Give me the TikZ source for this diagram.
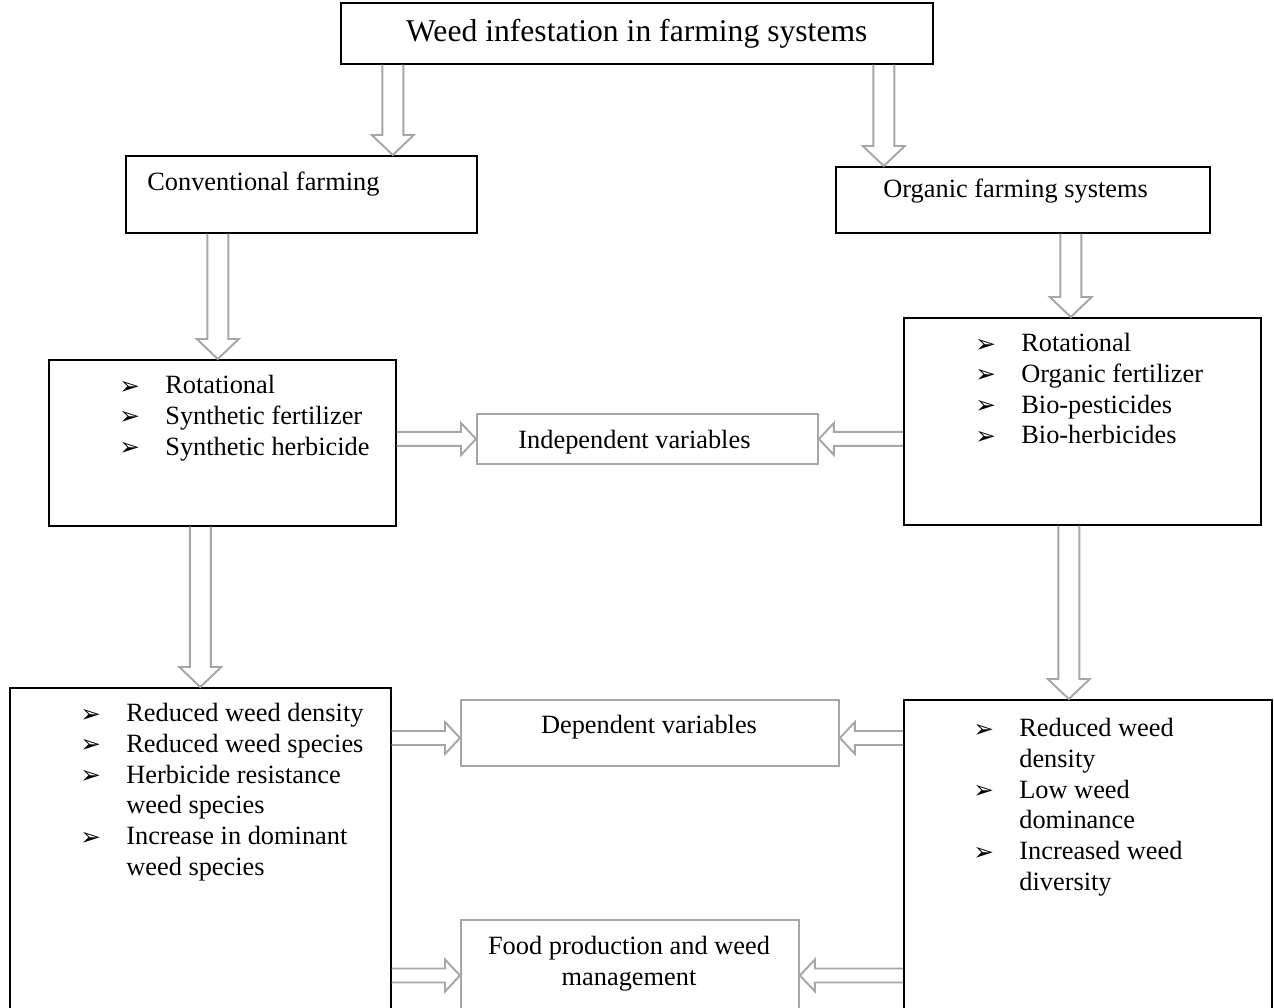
\documentclass[tikz,border=0pt]{standalone}
\usepackage{fontspec}
\setmainfont{Liberation Serif}
\newfontfamily\dingfont{DejaVu Sans}
\usepackage{tikz}
\usetikzlibrary{calc}
\tikzstyle{box} = [rectangle, draw=black, line width=0.9pt, inner sep=0pt, anchor=north west]
\tikzstyle{graybox} = [rectangle, draw=black!35, line width=1.1pt, inner sep=0pt, anchor=north west]
\tikzstyle{blockarrow} = [draw=black!35, line width=1.1pt, line join=miter]
\tikzstyle{txt} = [inner sep=0pt, align=left, anchor=north west, font=\fontsize{15}{17.5}\selectfont]
\newcommand{\bul}{\makebox[0.92cm][l]{\raisebox{-0.3pt}{\dingfont\fontsize{14}{14}\selectfont ➢}}}
% hollow block arrows: #1 start, #2 tip
\newcommand{\downblock}[2]{\draw[blockarrow] let \p1=(#1), \p2=(#2) in (\x2-0.21cm,\y1) -- (\x2-0.21cm,\y2+0.4cm) -- (\x2-0.42cm,\y2+0.4cm) -- (\x2,\y2) -- (\x2+0.42cm,\y2+0.4cm) -- (\x2+0.21cm,\y2+0.4cm) -- (\x2+0.21cm,\y1);}
\newcommand{\rightblock}[2]{\draw[blockarrow] let \p1=(#1), \p2=(#2) in (\x1,\y2+0.14cm) -- (\x2-0.3cm,\y2+0.14cm) -- (\x2-0.3cm,\y2+0.32cm) -- (\x2,\y2) -- (\x2-0.3cm,\y2-0.32cm) -- (\x2-0.3cm,\y2-0.14cm) -- (\x1,\y2-0.14cm);}
\newcommand{\leftblock}[2]{\draw[blockarrow] let \p1=(#1), \p2=(#2) in (\x1,\y2+0.14cm) -- (\x2+0.3cm,\y2+0.14cm) -- (\x2+0.3cm,\y2+0.32cm) -- (\x2,\y2) -- (\x2+0.3cm,\y2-0.32cm) -- (\x2+0.3cm,\y2-0.14cm) -- (\x1,\y2-0.14cm);}
\begin{document}
\begin{tikzpicture}
\useasboundingbox (0,0) rectangle (25.48,-20.16);
% boxes
\node (top) [box, minimum width=11.84cm, minimum height=1.22cm, font=\fontsize{18}{21}\selectfont] at (6.8,-0.04) {Weed infestation in farming systems};
\node (conv) [box, minimum width=7.02cm, minimum height=1.54cm] at (2.5,-3.1) {};
\node (org) [box, minimum width=7.48cm, minimum height=1.32cm] at (16.7,-3.32) {};
\node (convlist) [box, minimum width=6.94cm, minimum height=3.32cm] at (0.96,-7.18) {};
\node (orglist) [box, minimum width=7.14cm, minimum height=4.14cm] at (18.06,-6.34) {};
\node (indep) [graybox, minimum width=6.82cm, minimum height=1cm] at (9.52,-8.26) {};
\node (convres) [box, minimum width=7.62cm, minimum height=7cm] at (0.18,-13.74) {};
\node (orgres) [box, minimum width=7.36cm, minimum height=6.8cm] at (18.06,-13.98) {};
\node (dep) [graybox, minimum width=7.56cm, minimum height=1.32cm] at (9.2,-13.98) {};
\node (food) [graybox, minimum width=6.76cm, minimum height=2.22cm] at (9.2,-18.38) {};
% texts
\node (convtxt) [txt] at (2.94,-3.44) {Conventional farming};
\node (orgtxt) [txt] at (17.66,-3.58) {Organic farming systems};
\node (convlisttxt) [txt] at (2.38,-7.5) {\bul Rotational\\ \bul Synthetic fertilizer\\ \bul Synthetic herbicide};
\node (orglisttxt) [txt] at (19.5,-6.66) {\bul Rotational\\ \bul Organic fertilizer\\ \bul Bio-pesticides\\ \bul Bio-herbicides};
\node (indeptxt) [txt, anchor=center] at ([xshift=-0.26cm,yshift=-0.06cm]indep.center) {Independent variables};
\node (convrestxt) [txt] at (1.6,-14.06) {\bul Reduced weed density\\ \bul Reduced weed species\\ \bul Herbicide resistance\\ \hspace*{0.92cm}weed species\\ \bul Increase in dominant\\ \hspace*{0.92cm}weed species};
\node (orgrestxt) [txt] at (19.46,-14.36) {\bul Reduced weed\\ \hspace*{0.92cm}density\\ \bul Low weed\\ \hspace*{0.92cm}dominance\\ \bul Increased weed\\ \hspace*{0.92cm}diversity};
\node (deptxt) [txt, anchor=north, align=center] at (12.98,-14.3) {Dependent variables};
\node (foodtxt) [txt, anchor=north, align=center] at (12.58,-18.72) {Food production and weed\\ management};
% arrows
\downblock{top.south}{[xshift=1.83cm]conv.north}
\downblock{top.south}{[xshift=-2.78cm]org.north}
\downblock{conv.south}{[xshift=-0.09cm]convlist.north}
\downblock{org.south}{[xshift=-0.23cm]orglist.north}
\downblock{convlist.south}{convres.north}
\downblock{orglist.south}{[xshift=-0.38cm]orgres.north}
\rightblock{convlist.east}{indep.west}
\leftblock{orglist.west}{indep.east}
\rightblock{convres.east}{[yshift=-0.1cm]dep.west}
\leftblock{orgres.west}{[yshift=-0.1cm]dep.east}
\rightblock{convres.east}{food.west}
\leftblock{orgres.west}{food.east}
\end{tikzpicture}
\end{document}
